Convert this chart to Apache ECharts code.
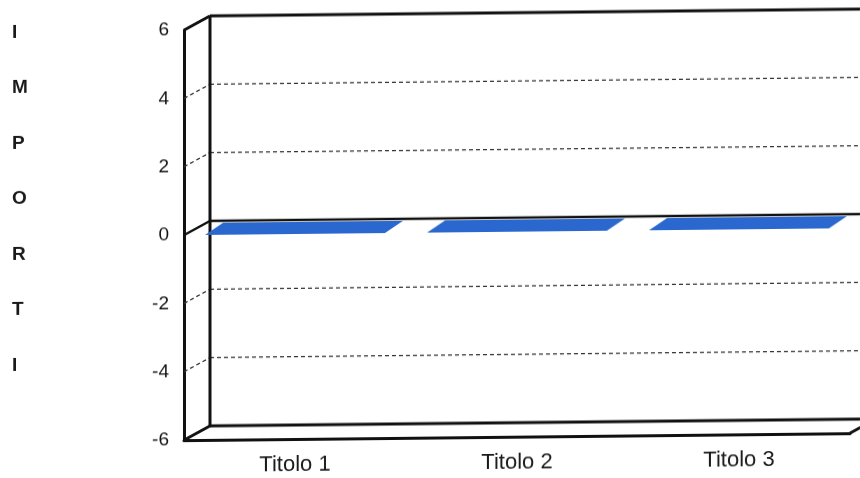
<!DOCTYPE html>
<html>
<head>
<meta charset="utf-8">
<script src="https://cdn.jsdelivr.net/npm/echarts@6/dist/echarts.min.js"></script>
<style>
html,body{margin:0;padding:0;background:#fff;}
#chart{width:860px;height:478px;transform:skewY(-0.6deg);transform-origin:200px 0;}
</style>
</head>
<body>
<div id="chart"></div>
<script>
// ---- data ----
const categories = ['Titolo 1', 'Titolo 2', 'Titolo 3'];
const values = [0, 0, 0];
const yTicks = [-6, -4, -2, 0, 2, 4, 6];
const axisTitle = 'IMPORTI';

// ---- styling constants (pseudo-3D depth) ----
const WALL_DX = 26, WALL_DY = -14;
const BAR_DX = 18, BAR_DY = -12;
const BAR_RATIO = 0.81;
const FRAME = '#111';
const BAR_COLOR = '#2a68cf';
const FONT = '"Liberation Sans", Arial, sans-serif';

const chart = echarts.init(document.getElementById('chart'), null, {renderer: 'canvas'});

function renderFrame(params, api) {
  const r = params.coordSys;
  const x0 = r.x, x1 = r.x + r.width, yT = r.y, yB = r.y + r.height;
  const dx = WALL_DX, dy = WALL_DY;
  const solid = {stroke: FRAME, lineWidth: 3, fill: null};
  const dashed = {stroke: '#333', lineWidth: 1.3, lineDash: [4, 3], fill: null};
  const line = (a, b, c, d, st) => ({type: 'line', shape: {x1: a, y1: b, x2: c, y2: d}, style: st, silent: true});
  const ch = [];
  yTicks.forEach(t => {
    if (t === yTicks[0] || t === yTicks[yTicks.length - 1]) return;
    const y = api.coord([0, t])[1];
    const st = t === 0 ? {stroke: FRAME, lineWidth: 2.5} : dashed;
    ch.push(line(x0, y, x0 + dx, y + dy, st));
    ch.push(line(x0 + dx, y + dy, x1 + dx, y + dy, st));
  });
  ch.push(line(x0 + dx, yT + dy, x0 + dx, yB + dy, solid));
  ch.push(line(x0 + dx, yT + dy, x1 + dx, yT + dy, solid));
  ch.push(line(x0 + dx, yB + dy, x1 + dx, yB + dy, solid));
  ch.push(line(x1 + dx, yT + dy, x1 + dx, yB + dy, solid));
  ch.push(line(x0, yT, x0 + dx, yT + dy, solid));
  ch.push(line(x0, yB, x0 + dx, yB + dy, solid));
  ch.push(line(x1, yB, x1 + dx, yB + dy, solid));
  return {type: 'group', children: ch};
}

function renderBar(params, api) {
  const i = api.value(0), v = api.value(1);
  const base = api.coord([i, 0]);
  const top = api.coord([i, v]);
  const bw = api.size([1, 0])[0] * BAR_RATIO;
  const xl = base[0] - bw / 2, xr = base[0] + bw / 2;
  const y0 = base[1], y1 = top[1];
  const ch = [];
  if (Math.abs(y1 - y0) > 0.5) {
    ch.push({type: 'rect', shape: {x: xl, y: Math.min(y0, y1), width: bw, height: Math.abs(y1 - y0)}, style: {fill: BAR_COLOR}});
    ch.push({type: 'polygon', shape: {points: [[xr, y1], [xr + BAR_DX, y1 + BAR_DY], [xr + BAR_DX, y0 + BAR_DY], [xr, y0]]}, style: {fill: '#1f56ad'}});
  }
  ch.push({type: 'polygon', shape: {points: [[xl, y1], [xr, y1], [xr + BAR_DX, y1 + BAR_DY], [xl + BAR_DX, y1 + BAR_DY]]}, style: {fill: BAR_COLOR}});
  return {type: 'group', children: ch};
}

const option = {
  backgroundColor: '#fff',
  animation: false,
  grid: {left: 184, right: 10, top: 30, bottom: 38},
  graphic: [{
    type: 'text', left: 12, top: 3,
    style: {text: axisTitle.split('').join('\n'), font: 'bold 19px ' + FONT, fill: '#1a1a1a', lineHeight: 55.5, align: 'center'}
  }],
  xAxis: {
    type: 'category', data: categories, boundaryGap: true,
    axisLine: {show: true, onZero: false, lineStyle: {color: FRAME, width: 3}},
    axisTick: {show: false},
    splitLine: {show: false},
    axisLabel: {fontSize: 22, color: '#1a1a1a', margin: 15, fontFamily: FONT}
  },
  yAxis: {
    type: 'value', min: yTicks[0], max: yTicks[yTicks.length - 1], interval: 2,
    axisLine: {show: true, lineStyle: {color: FRAME, width: 3}},
    axisTick: {show: false},
    splitLine: {show: false},
    axisLabel: {fontSize: 19, color: '#111', margin: 15, fontFamily: FONT}
  },
  series: [
    {type: 'custom', name: 'frame', renderItem: renderFrame, data: [[0, 0]], silent: true, z: 1, clip: false},
    {type: 'custom', name: 'Importi', renderItem: renderBar, data: values.map((v, i) => [i, v]), z: 2, clip: false}
  ]
};
chart.setOption(option);
</script>
</body>
</html>
